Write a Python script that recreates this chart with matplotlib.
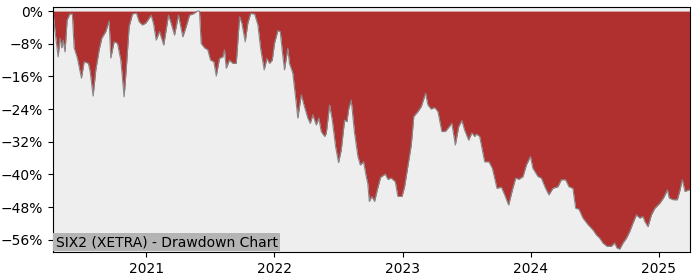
import matplotlib
matplotlib.use("Agg")
import matplotlib.pyplot as plt
import matplotlib.dates as mdates
from matplotlib.ticker import PercentFormatter
import numpy as np
import pandas as pd

# decimal year of each reading and the drawdown (%)
years = [2020.273, 2020.289, 2020.313, 2020.328, 2020.341, 2020.352, 2020.367, 2020.383,
         2020.404, 2020.424, 2020.438, 2020.463, 2020.495, 2020.516, 2020.549, 2020.563,
         2020.586, 2020.607, 2020.633, 2020.654, 2020.685, 2020.711, 2020.724, 2020.750,
         2020.776, 2020.802, 2020.828, 2020.846, 2020.867, 2020.893, 2020.924, 2020.945,
         2020.971, 2020.998, 2021.037, 2021.055, 2021.076, 2021.102, 2021.135, 2021.172,
         2021.193, 2021.219, 2021.250, 2021.284, 2021.310, 2021.336, 2021.370, 2021.396,
         2021.414, 2021.427, 2021.453, 2021.479, 2021.500, 2021.526, 2021.545, 2021.570,
         2021.596, 2021.609, 2021.623, 2021.648, 2021.674, 2021.701, 2021.727, 2021.745,
         2021.771, 2021.791, 2021.813, 2021.844, 2021.870, 2021.891, 2021.919, 2021.940,
         2021.961, 2021.982, 2022.000, 2022.026, 2022.045, 2022.060, 2022.078, 2022.104,
         2022.117, 2022.143, 2022.170, 2022.182, 2022.209, 2022.234, 2022.260, 2022.279,
         2022.299, 2022.326, 2022.346, 2022.365, 2022.391, 2022.404, 2022.430, 2022.451,
         2022.477, 2022.500, 2022.521, 2022.547, 2022.565, 2022.580, 2022.599, 2022.625,
         2022.651, 2022.670, 2022.695, 2022.716, 2022.728, 2022.740, 2022.760, 2022.781,
         2022.802, 2022.828, 2022.865, 2022.885, 2022.912, 2022.943, 2022.963, 2022.995,
         2023.016, 2023.041, 2023.068, 2023.088, 2023.120, 2023.146, 2023.180, 2023.198,
         2023.224, 2023.250, 2023.276, 2023.307, 2023.334, 2023.354, 2023.385, 2023.412,
         2023.438, 2023.463, 2023.484, 2023.516, 2023.541, 2023.563, 2023.576, 2023.602,
         2023.641, 2023.674, 2023.701, 2023.737, 2023.771, 2023.797, 2023.828, 2023.857,
         2023.883, 2023.909, 2023.940, 2023.966, 2023.998, 2024.018, 2024.057, 2024.084,
         2024.117, 2024.143, 2024.174, 2024.213, 2024.240, 2024.273, 2024.299, 2024.330,
         2024.352, 2024.377, 2024.409, 2024.448, 2024.487, 2024.513, 2024.539, 2024.565,
         2024.596, 2024.630, 2024.656, 2024.674, 2024.695, 2024.721, 2024.748, 2024.773,
         2024.799, 2024.826, 2024.852, 2024.877, 2024.891, 2024.916, 2024.943, 2024.969,
         2025.008, 2025.034, 2025.066, 2025.080, 2025.112, 2025.143, 2025.164, 2025.182,
         2025.203, 2025.229, 2025.242]
drawdown = [0.0, -5.0, -11.2, -6.6, -9.0, -7.1, -10.0, -2.2,
            -0.7, -0.7, -9.0, -11.5, -16.4, -12.4, -12.8, -14.8,
            -20.8, -14.4, -9.5, -6.6, -5.0, -2.4, -11.5, -7.5,
            -7.9, -12.0, -21.0, -13.6, -3.8, -0.7, -0.5, -2.6,
            -3.4, -2.9, -1.0, -3.0, -7.1, -5.0, -8.3, -1.0,
            -3.0, -5.9, -1.0, -6.3, -3.8, -1.0, -0.6, 0.0,
            0.0, -7.9, -9.0, -9.5, -12.0, -12.4, -15.9, -11.6,
            -11.2, -9.5, -14.0, -12.0, -12.8, -12.8, -1.4, -3.0,
            -7.5, -3.0, -0.6, -0.7, -3.4, -9.1, -14.4, -11.6,
            -12.8, -12.0, -7.9, -4.8, -5.0, -9.5, -14.4, -9.1,
            -12.8, -15.2, -22.6, -26.2, -20.5, -23.4, -26.2, -27.5,
            -25.4, -27.9, -26.2, -29.5, -30.7, -30.0, -23.0, -26.7,
            -33.2, -37.1, -34.0, -26.7, -27.1, -23.8, -21.8, -29.9,
            -35.6, -37.7, -36.9, -40.5, -42.2, -46.6, -45.4, -46.6,
            -43.8, -40.7, -39.9, -41.2, -40.9, -41.8, -45.4, -45.4,
            -43.0, -38.1, -32.8, -25.8, -24.6, -23.4, -20.1, -23.0,
            -24.0, -23.6, -24.6, -29.5, -29.5, -28.7, -27.5, -32.8,
            -28.3, -26.8, -29.1, -31.6, -29.8, -30.7, -30.1, -30.7,
            -36.9, -36.9, -38.5, -43.4, -43.1, -45.0, -47.5, -43.8,
            -40.9, -41.2, -40.5, -37.7, -35.6, -38.5, -40.5, -40.9,
            -43.4, -45.0, -43.4, -43.0, -41.3, -41.3, -43.0, -43.4,
            -48.3, -48.5, -50.7, -52.3, -53.6, -54.8, -55.6, -56.8,
            -57.6, -57.6, -56.8, -58.0, -58.3, -56.8, -55.6, -54.0,
            -51.9, -49.9, -50.7, -50.3, -51.5, -52.8, -49.9, -48.3,
            -47.0, -45.8, -43.8, -45.8, -46.2, -46.2, -43.8, -41.3,
            -44.2, -43.8, -43.8]

yrs = np.array(years)
whole = np.floor(yrs).astype(int)
dates = pd.to_datetime([f"{y}-01-01" for y in whole]) + pd.to_timedelta((yrs - whole) * 365.25, unit="D")
dd = np.array(drawdown)

fig = plt.figure(figsize=(7, 2.8), dpi=100)
ax = fig.add_axes([0.0757, 0.1, 0.91, 0.875])
ax.set_facecolor("#eeeeee")

ax.fill_between(dates, dd, 0, color="#b03030", linewidth=0)
ax.plot(dates, dd, color="#888888", linewidth=0.8)

ax.set_xlim(dates[0], dates[-1])
ax.set_ylim(-59.0, 1.0)
ax.set_yticks(np.arange(0, -57, -8))
ax.yaxis.set_major_formatter(PercentFormatter(decimals=0))
ax.xaxis.set_major_locator(mdates.YearLocator())
ax.xaxis.set_major_formatter(mdates.DateFormatter("%Y"))

ax.text(0.004, 0.012, "SIX2 (XETRA) - Drawdown Chart", transform=ax.transAxes,
        fontsize=10, ha="left", va="bottom",
        bbox=dict(facecolor="#b4b4b4", edgecolor="none", pad=1.5))

fig.savefig("out.png", dpi=100)
